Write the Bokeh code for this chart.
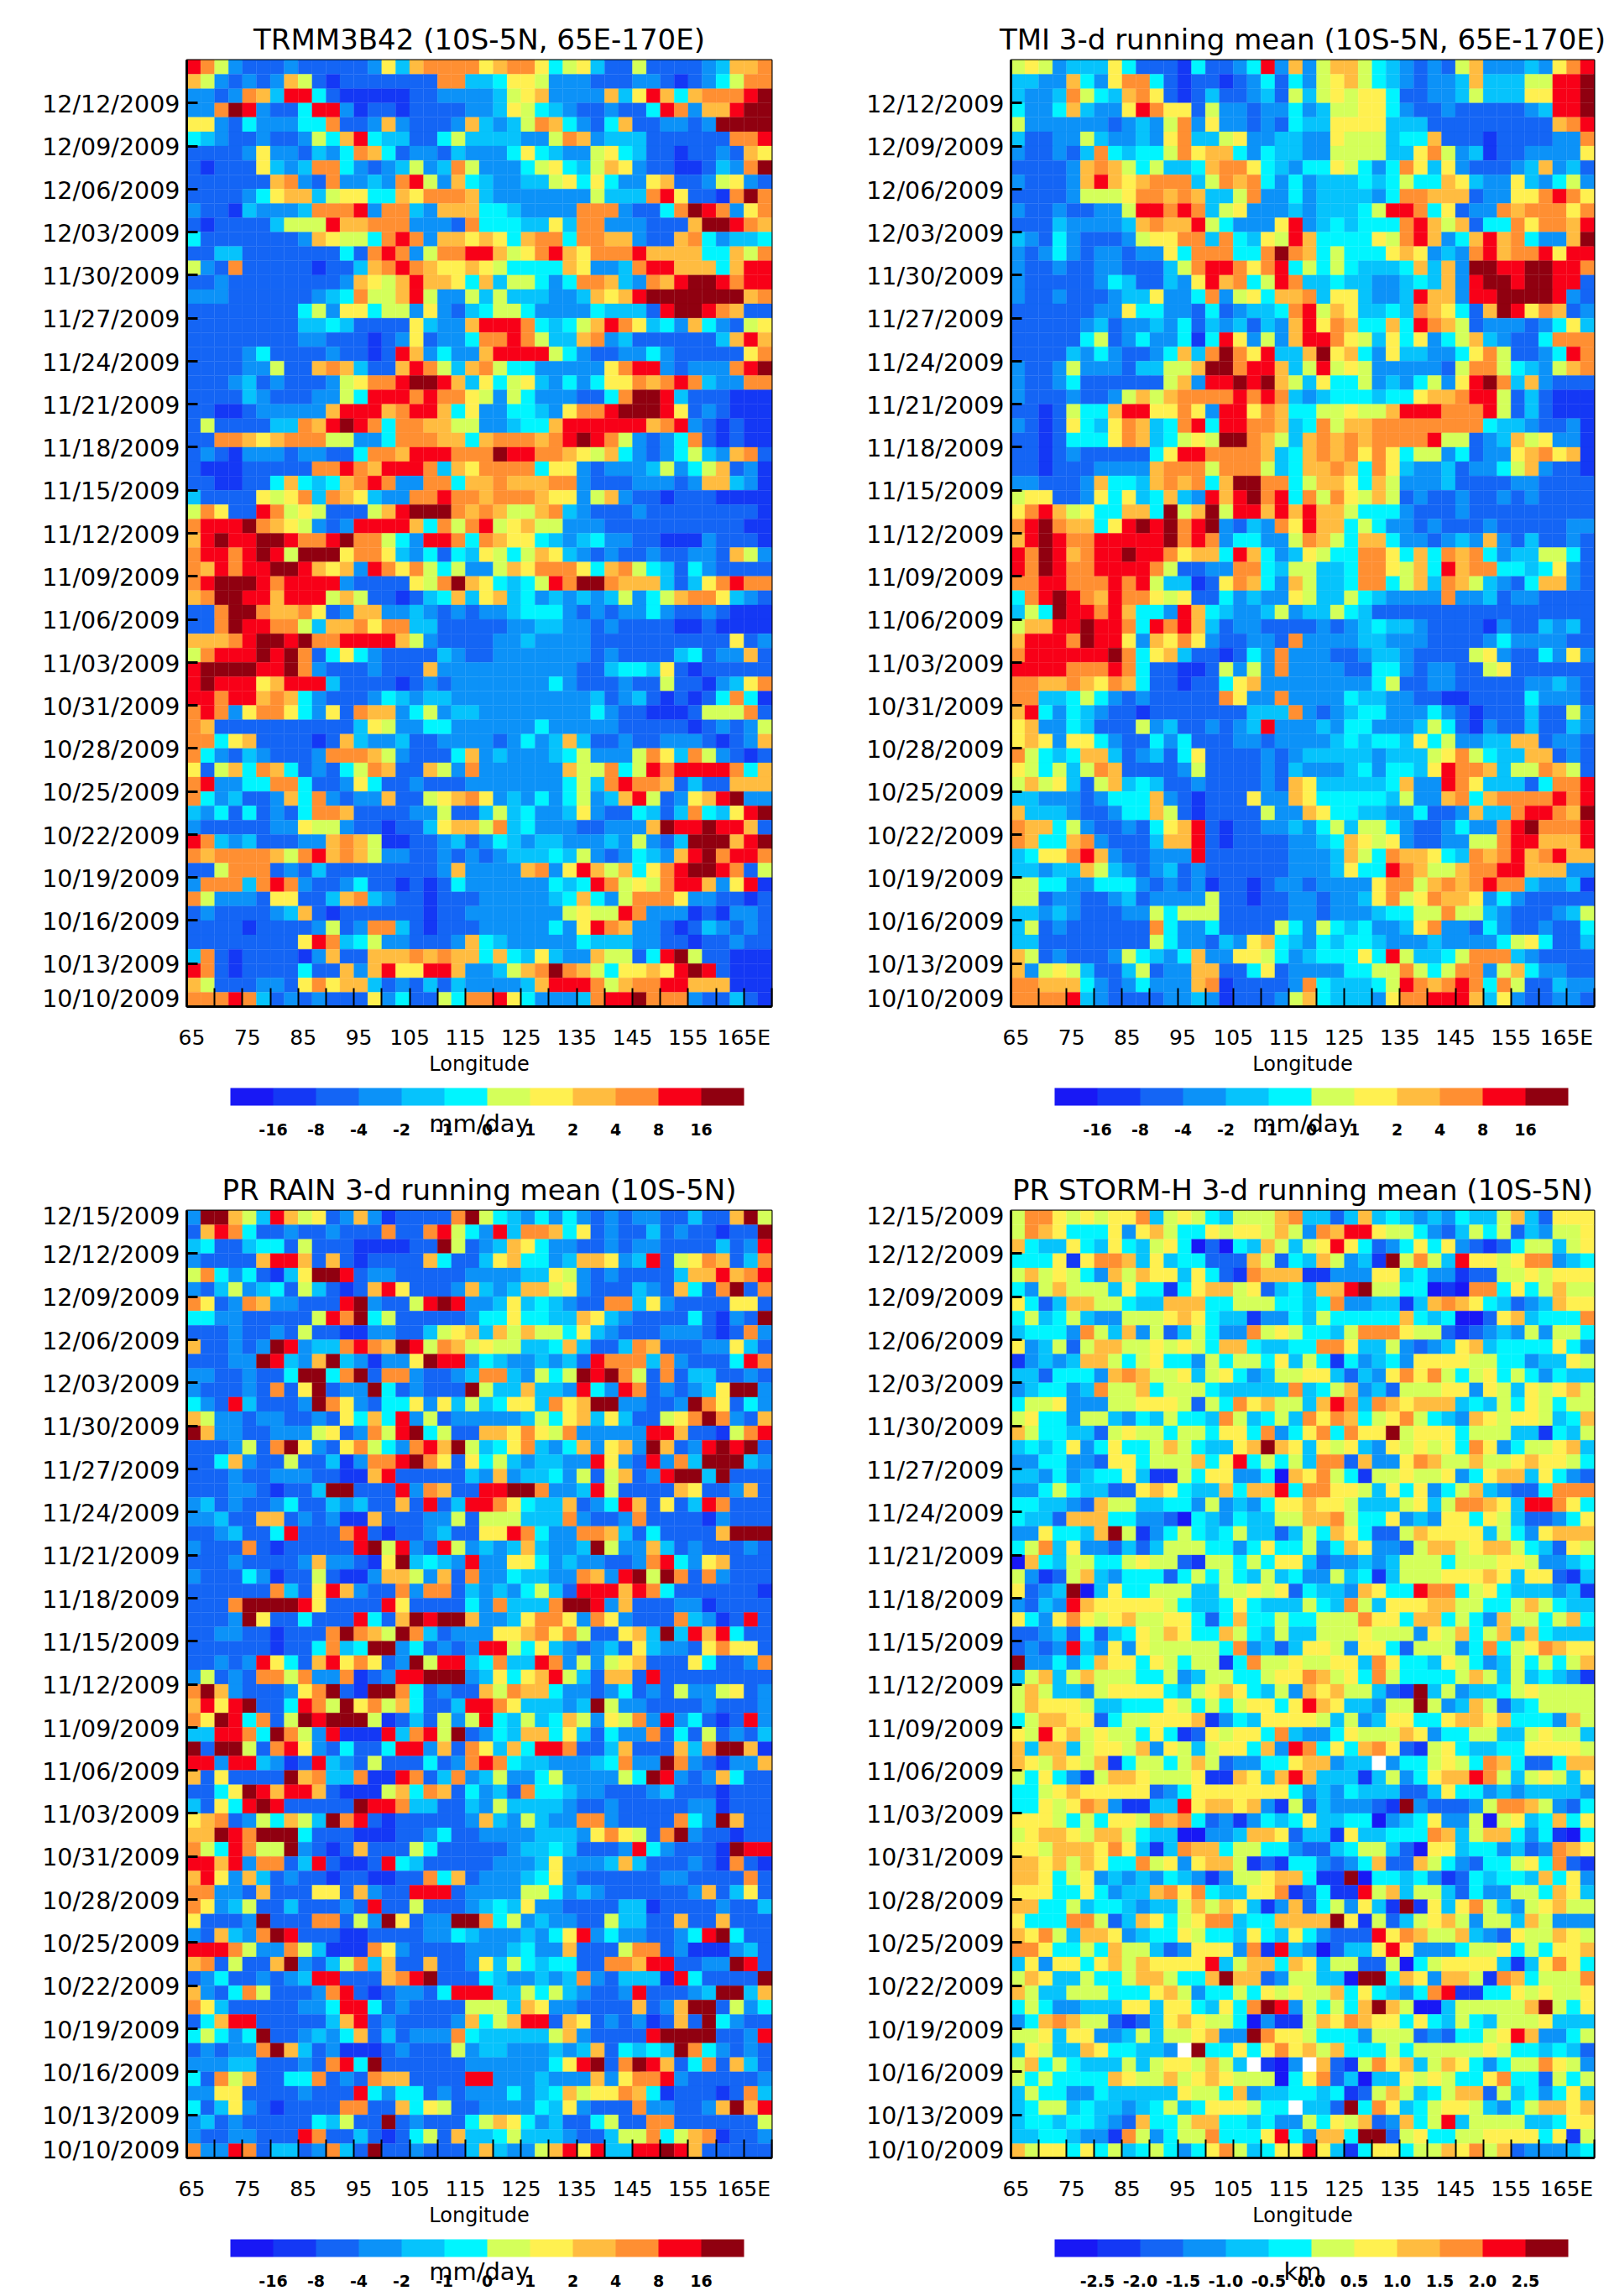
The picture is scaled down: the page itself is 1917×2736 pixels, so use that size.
from bokeh.plotting import figure
from bokeh.layouts import column, row
from bokeh.models import ColumnDataSource, FixedTicker, LinearColorMapper, ColorBar, Title
from bokeh.embed import file_html
from bokeh.resources import INLINE

PALETTE = ["#1818F5", "#1438F5", "#1465F5", "#0C92F8", "#06C3FC", "#00F5FF",
           "#D4FF5A", "#FFF050", "#FFBC40", "#FF8F32", "#F80018", "#900010"]
CODES = "abcdefghijkl"
RAIN_LABELS = ["-16", "-8", "-4", "-2", "-1", "0", "1", "2", "4", "8", "16"]
KM_LABELS = ["-2.5", "-2.0", "-1.5", "-1.0", "-0.5", "0.0", "0.5", "1.0", "1.5", "2.0", "2.5"]
DATE_LABELS = ["10/10/2009", "10/13/2009", "10/16/2009", "10/19/2009", "10/22/2009", "10/25/2009",
               "10/28/2009", "10/31/2009", "11/03/2009", "11/06/2009", "11/09/2009", "11/12/2009",
               "11/15/2009", "11/18/2009", "11/21/2009", "11/24/2009", "11/27/2009", "11/30/2009",
               "12/03/2009", "12/06/2009", "12/09/2009", "12/12/2009", "12/15/2009"]
LON_LABELS = ["65", "75", "85", "95", "105", "115", "125", "135", "145", "155", "165E"]

# colour classes: rows from top (12/15) to bottom (10/10), 2.5 degree columns
TRMM = """
kjgdcccdcc cccdheijjj jhijjhfghe ccgccccdei ij
igdcdcdigc bcccccccjj eefhhgdddc ccddcbcdfg jj
ddcdjiekkf cbbbbbccdd ddeghidddd iehkifijjj kl
ddjlkdccfk kdbccbcccc ddehgfedcc dccfkjdiik ll
hhdcfdddff jccdidcccd iedegjifdc ficcddcdll ll
fedccdccdg fikfeeccfg eeeeddgjid eeeccccccj jk
ccccdhddce dfjifcddce dddfhfeddg hfeccbccdc ih
cbccchedej jfdcdegdej gdddfghfeg ihdccbbced jl
ccccccijdc jddedjkgdi feddeeghfh fddhiccdgh dc
ccccdfhiie ghhffihjjj ieddddddDg eeejkhccbj lj
dccbedddej jjkdjjedii iffeddddjj jdccfjlkjd hj
cbcccceggg kiijjjdddc jfffeehejj dddccciLLk ji
fcccccccdi hggfjkjdii hihfijjfjj iidccijfde ef
cceeccccCc cfcjkjdgjj kkighjkihj jjkiiiiffi gj
gdcjcccccb cceijkjihh ihgffffihd dejkkiiifi kk
ccdccccccc cdihgikiih fieggfdfjj iedjikllkj kk
dddccccccd efjggikgdd gegeeeddei hiklllllll ij
ccccccccfg dhhfggdhdc efggfddddf eeeckllkji cc
ccccccccee fecccchedd ikkkjfefgi kjhefdifdc gh
ccccccccdd cccbcdhcdd fjjkjgeeij decccccceik ik
ccccdfcccc dccbckidfd dikkkkgfdc cddfdccccc hj
ccccddgcci jieccikjge ijgffddddd hjkkdcdddj kl
cccdecdccc dghjjkllki ehfghedfdf hhjijkjedd jj
ccccedcccd dgfkkkjkjj hgdgfdddcc fjllkecccb bb
ccbbcddddd ikkkijkkif hddffedhjj klllkhcdcb bb
cgcccceeji klkjfjjiig gddeffikkk kkkijkdcbc bb
ccjjihijjj ggddfjjjii fijjjijklk jgdcdfjcbc bb
cdcbdddcdd ccfjjikkkj jjlkkjjihg ifdcdfgedi jc
cbbbcccccj jkjikkkjei hjjjjfhhdc dddegdfgic db
ccbbccfife fijkjddjjf iijiiijjdc ccdddcdiie db
ecccchghje jiheddjjkj jijjjihhdg idccbcccbb bb
gjhcckjghg cccgiklllj ijiggijedc ccdccccccc cb
jkkkljihgd cdkkkkifjg jkghiggddd cccccccccc bb
iklkkllkjj kljjgfdkkj fjihhfedef ddccbbbdcc cb
jkkjklkgll lhjjhedfcf ehgfgihedc dccdccddci gd
jikjkkllki hidkjhjgfg ddgihjjjhf ijgfecfdcc cc
jklllkjkkk kdcccchgjl ihfefgkjll jiiiecehjk jj
ijllkkikkk gigccbcefi ehiefdeded egdfgijjhe dc
ccjlljiijh cdiiddedcd cddefffdcd cddfdccdcb bb
ccjlkkjjge iijhjjeecc cccddeeddc dccccbbcbb bb
iiijkllklj jkkkkigdcc ccddeddddc ccccccccch cd
gjkkklkljc fhfdcccced ccdddddddc dccccefcdd ic
kllllkkljd cccdcccidd ddddddddcc effehcbccc cc
klkkkhikkk eccccbcdcd ddddddfdcc cdccgccbde hj
kkjkkijifd cccdfedeed ddddddddde cdecbcbcfj fb
jkjdhjjhfd hcjiidfgde eddddddddf dccbbbcggg jc
jicccccccc ccehgddffd dddddfdddd dcccccbcdc dg
jjfhiccccb cieddeccdd ddcdfdeiec cdccdddcbc di
jfdcedcccd jjjigdcccf idedddefgd ddgjhejgdc bc
hcgifjifcd cfgjiccigd jddddddigg jfgkjkkkkj fi
jkddffjjfc cdhfccdccc dddddddfge jkjjicecci ii
jfdeccdifj dcddiccghi jhdedfdfgd eikgcdhikl dd
edfcfcdcfj jiccccddgc cegefddehd ccfecejfeh kl
dcccccddhg gdccbccehi igjefdddcc dddilkklkk i
kjedecccdd ijigbbccde cdfedeedd dedgdcelll ikl
jijjjjigjk ijigddccdc dcdeeefegd cdfedikljk kj
ccgjjjcdce ccccccccdi ddddijdhki gifhjkllkj cg
djjjejkjdc cdfccbcbcf ddddddfefk jghgjkkidh kb
jgdddchhcc eijedccbcc cdddddefif dgjjjhddcc bc
cdccccdeic bccccccbcc dddddddghg gkjdddbcbd dc
ccccbccccd gcdjjecbcc cdddddfdhk jiddcbcedc dc
cccccccchk jefgddcccd ifedddddfe eeddccbccd cc
ejcbccccbd icciiijiji ififehedDi ggcfklgccb bb
kjcbccccfc cidikhhkki ddegijljig fhhihklkcb bb
igcccddchj hiiecdcece ddddeikkkj gijjkkiiib bb
jjjkjecdcd ccchdfccgf jjkhfdddej kkljjjdcce cb
"""

TMI = """
ghgdeeehfc ccbfccdfkd idgiigfedc dcgidddedh jk
eeddifdhjj fcbccbcdfc fdghigfedc ddeieeeggk kl
eddejgfeij hcbceccdec geghghhfcc ddegeeehhk kl
fddfieddhk jhhcgddcdd fdegghhfdc cdcccccdek kl
gddddddcde dgjdhddcdc feehhhheee ccccccccci jk
eccddgedde dhjeeghdde eddhgggeff icccbccccd dj
dccdcejfef fgjhiifdfe eddggggeeh jgdebccddd dh
ccccdijigf geefijjhfe dffhgfdfjh ehdcccdeid e
dcccdikihi jjjegjijfd fdeeefefgf fiheddhedf gd
ccccdggghj jijieegjdd fdeeeedfjj iiicddhhjk jh
dccdccddgk kjkjeghddd edeeefgkkj fhcddjijjj hj
ccceddddei jiikgfdddh kdefefffjk igicffjhjj ik
edcfdcccdg hhjjejfehg kiffffhgjk idfikijfdd il
dcdfdcddcd dhfjjjffjl jifgfffhih dedjkijjkh kk
dccdccddcc cegjkkjhjk fgfgfeeefi eidllkkllk kj
dcccccdfec cedhkijfgk jeefeeddef eidkllkllk kc
dccdcccdee hddfjdghfi ijehheddek iidkkllllk dc
ccccccddhf fddcfcdeef jkgiheefej ihfcilkhji cd
cccccdecdd edfcedeced ikhjiffifk jigcdddcdf he
cccccfgcdf ddfbfkhdgd ikkjhgehfh dfgiedccfj jj
ccccedfdcc dfiejljhke eilhifdhee ddfhjgccdf kj
dccdgdddce eggilljkki egkghgdddd dcgjjgfedg ij
dccdfccccc cgidkklkli gehffgdedf gdhkljeidc cc
dcccdccdgi gijjjjkjkj edefffeffh iijkkgcecb bb
ccbcgffikk hhjhdkkhji ffgghggikk kjjjkgcecb bb
dcbchfehji efjkfkkjji efjgiijjjj jjjjfeedcc db
ccbcfffhji efghglljig eijijijjjj kggcdeighd db
ccbcdccccc fhkkjjjjie fijijhjhfg gdfcddhijh ib
ccbcccdddd ijjjgjjjge fiijifjhed decddfgidc cb
ddcccdiffe ijijfilljj fgiihfigdd deccccddcc cc
ghhccdhfhe fiedkikljk fjgjhgigcd ccdccdcdcc cc
hjkighffii flgilgkkik ikiigfffdc ccdccccccc cc
jkljiifhkl kljkldcedj hkiifgfddc dcccdccccc dd
iklkjjkkkk kljkjdffdd gjigfiifdd cdedidcecc dc
kjlkijkklk kjhiifkifd ehgffjjhfi fjijfdeegg fc
kjlkjjkkkk jgccddjjfe ggeefjjhgi fkijjffefh dc
jjkkjjjkjk geebchjifd igeefjjfgi ejigedcfii dc
fjklkjikjj hghccfdedd hgeegfeddd djddecddcc cc
egflkkjkif fdkifeddeg deegfecccc cccccccccc cc
giikklkkjf kjkiecddcc ccdcdefeed ccccbdcced ec
ikkkjlkkhd ihjhdccddc jddddeeddd ccccdfdddd cc
jkkkkkkljf hieccbcfdj dddccdeedc cccghdccfd hd
kkkkjjjkjf ccbbcgdgdj ddddccffdc ddccghcccc cc
jjiijihjif ccbccfhidd ddddddfgcc ddcccccdde dc
jjeefgfdcd cccccjhddj ddddfeeddc cbbccccfdd dc
ikfdfedccb ccccccceee jdcdeffddd fdcbcccecc gd
hiddfecccg deccdcdekd ddedffddde gfcbdccecc ed
hihdhhfdcc fdfcccddcd dddefeffeh fgddeeiicd dc
jgfefiiecd ecfhccccdc deeeeedeee ghjgfeeiic dc
hgfgegjicc ccdgccccdc edddefdffe hkjjieggji gc
gighecgief eccdccccdc iheeeeefid dkjheeecfj jk
eedddcdfff idcbccchdd ihfffffegd dijfijjjjk jk
ieeedccdff igcbccccgd dihffeeddf ccdieejkkj il
jiifgdccdc fhikcbccdd edfgeggfdc cdfddjkljj jk
jiffijdccc eiikcbcccc ddefihghdc cddggjkkii ik
efhhjkidcc dddkcccccc dddeigfjii hfejijkijk ii
eedeeigedc decdcccccc dddehffkji ggijjkkiii dd
ggffddfffd cdcdbccbcd dcddddhjjg ijijkjjedd eb
ggcddccdec ddddgccbcc ddcddehjgh jiihdfdccc cc
eededcccdd gfgggccccc ddcdddeffg gjggedcccd eg
egcdcccccc jfddfccccg fdgfefddeh jddcfdccdc cf
eecccccccc gfddcedhif edfeffeddd eddddfghfc ce
igcdcccdgf edfiddhhgf defffhfkge efgjjjedcc cc
idghgecceg cddiiccfhc ddddffggjg fgjjdgifdd cc
jjiiifdcdf dddijbcccc djfeeefgkj ijkjfjgcce dd
jjjjkedccc cddedbcccd gifeeedhjj kkkiehdccd dc
"""

RAIN = """
dlligekigh cdidbccccj lgfedfdfdc dcddccecci lg
cikjfccdcc dcccjccjkg fdkejjifhc dcceCdccbc cl
efcceffcgc ccbbbbcclg cdeihfddcc dcddcccce c dk
dccccikkic icbccccifc cehiffdeii hdekcghjic ej
gjfdfcbehl lkcddccccc ddddeehgdc dcccceiiki jk
dcegdefcge cbcikhcccd iedeiighdc ccedcifcjl cj
jhcdjiddcc ckldccgklk ddehefedcc jjehdcccch hc
ffddcccccg kjlfgccccc dffhffeeih edccccfcbd cl
cccdccdcgc cbbddccegh ieigiggfhe dcccdddcbc jd
iccdcdlkde ejkjilkgji ghggeefiec cejicccddh ec
cccddlkedi ledbddhlkk dfeddedeck jjjejdcccf kj
ddccdccfll fjlcjjdccd ejjedgfglk ljgcjceecc dc
dcccdcjchl cddlfcdccc lgeeieedkf dkjcdcdehl ld
fdckecccdl jhdcffhdhe gefhhejhil lddccdljhc fd
igddcddccd chfifkdgcd ddddegfhie heccghjljd ci
liddccdddg hcdjgklfgc ciihjhgjdd dddkkiccbg jk
cccdgcjlhd chjgfdjkil gefhjedfid hidlicdklk lc
ccfidccgcc ebdjjkljhc hfgedeeddk hdckdjelll ed
cccdccdddc cbbikccccc edideefdgc gicdkllelc cc
cccddcbcce llccckdjic ckklljddek gccccihccd ic
decdccdfcc edeccickce kkjhfeeicd fkichcekjc cc
ddecciicdc dbbicccddg cgggeeejdc cdjccccbdc cc
ccdeccfkcc cjkcbccdec chhkjfddjj iecfccccil ll
dcccjcbccc ccklgkdckg dedeieddel gddiecdccc dc
cccdccccdi ddcbhlefed kddhhfdedd ccdjkfdhic cc
dcccfdbccg cbbdiigdic jddfeeddji dklgljcjdc cc
ccccccjech kidccjdjjc ededfgeckk kikjfccccc cb
cccjllllkh cccckhcccc fdjeeejllk dicccddbcc cc
cccdlhccfc cckfcilkll iddehjjhdj hdcccjedbc kc
ccddccbccc jljigljecd ddhhijhjgc chielekikf cc
ccccccbccf jeflldfcdc dkkgfhedcd echeddchjh hc
ccdcdkhfci khjhcdlgkk efjeekjdgd ghiccchfcc dj
dgcdcjjgjd djbcdkklll dehfhikgec iickcccccc cc
jlidcccdhj lcblljfcdc cigjiifddc dfcdcgddgh cd
ikhklccfkj glhjgifcce kkjheeedel gddccccdcc cd
jhlkfjcglk lllgbcecgd gkfegefigd hgjdkdfcbc kd
eekkjfljgd kbbbkejkgl cdfeiifhec fddjcfcgcd ce
lcllgcjkhd cfccfkkdic jheifkkjcc eiccciejll ib
kkdkkedbck edcgcccfcd jkjfeeddde fjddljdcbd di
ichcccclij eejbbkjcej degddfgddd dgflkdcdif cc
ccfhlkikki cbbbgifjic fdecjffedd cccdecccbc cc
echfklkccc cclkkjeecc edgeeeedcc dcccccddbc cc
hijcdgfige ljkcbccccc diedgeddjj dccccjfdli cc
iilkjlllfc ccbbbccdfc cddddeeedh jhgcjldccb cc
jgfkjggldc bcicccgfcc cccdeefecc cdkfdcccbl kk
kkikdjjcek cbbckfeccc ccdddehddd eiecccdcbj cb
ikhdiecdcc bccbbccjfi cdddefhdcc ccccddcccc jc
jjddciccch hcidcckkkc ddddggfded ccccccdice hc
jhdegccecc cdckccgccc defehddccc ceebccccdc ce
hcccdlcccj jcgdlhcddl ljfgdeddcc geeccicci c cc
dciedjlkcc cbbccccddf edddedfhkd fddccdfklf cc
kkkjgddjge bbbjhdcccc dddefddicc cgjjcdbbbd ec
ijcgccildc egjeiccicc dhegfeffcc jjikkccddl kc
cdfccdcdek kcccijklcc cfeddedejd ceeebkfccc cl
idcfjgcccd jkcbcddcfk kkeegfgedc cdkcccdell ei
jheccccc dd fkkfcdcccc gggeihddcc ccicdillcg df
cfikkccccc eikcdccccd ifgikkcihc dcdbciclfd cc
fgfdflccde dficecdddj feeeeegidc ccckllllcc dk
cdcddjliec dbbbcdcccg deedddedei cfefeljfdc dc
dddeecccdc jkflcccccc ddddddfhkl cjlkicfjci ec
fcjgiccffj cdcjiicccc kkdddedddi dhjjkdcccc cd
ddhhccccdc cckfdffcdc dddfdefigh hjifbcccbc je
fcehdcbccc cjjccifhgc cddddfehdc ccjddccdil ik
decdcccccf egcclcdccc fgihfdeccf gccjjccccc cg
dccddccckj ccecbcfgci eefgeeedcc eggjfgijbc cd
jddkjceecd jeclccdccc eieddgikhk eekklkiccc cc
"""

STORM = """
gjjhghghhj eghgfegggi jeeceiefed edfeegiech hh
gjihfffhdh igffhghhgi gdjikkhggf dcegfgcedg gh
ifeehfehfe ghfacafeig eghkhfcdfh fhdcbcfgge gh
fffhbhjjie heffcccigc feigdeblgj gekhhghjjd ef
gighgfdigi hhehfcbjii ibbdddhhef ddbccgghgh hh
fdgigggehf fbfhiighce feiiklggff abajjfhfgi gg
hfceiiggfe eiiiffgggf fefjddeebe ijihfecdei hh
fgefgeddgg ghihfeebdd fegfffffif efaachieff fj
efffdjgeid gcegfddjgh gffegjjjhg gcbcdedgdg gf
hdegcgiigg hghgfiifee ffjjheegdc dehieffffh fd
bdedeiigfg hffdgfggfh egfbfdefdh hhhggffdee hg
eecfffdiji ggheghfdeg ghhecedhjh jgfghfgfdf ee
deffdejggi fgggfeeeee jefgidecgg ghhdhgehgh ig
fgghdddggh hhgcgfjhig geikjejihi iiefegfhgf gg
ghffdggedf egffejgefg ejhjifghjg fedihghhge fi
igffeecghg gfggfhhfjd fhjfjhhlgh hhfgggeebf eg
efefhdfhff gigfeehili hehghedhgh ghfjhdfggh ie
ddffddchhf gggifhkfgf gejjciddhj iggigghihh gf
eedfdeffhe bbgfhhddfa ihjgfbgghg ghdfhiiehf dc
ddfgfeecch ihfeeifiik fjjhhgehfh dfgiedccfj jj
ffeedcigge effdgdedfh hihhgeeegh egjjihekkj hf
feeciiiffd dcafedfeeg giijgffhde dhhfhgeccd fh
ddhffeilgb dfgfefgeec egfihfccgi hhhhegfdhi ii
fgjehddcec egggffdfhf fgdfihddcg iighiigfec hg
aifeggffgh ggcbggfgfh hecddedegg gfggghhgdd ef
gdbcgiedff fcfgfgfege fddgefbegg ghhhihehhc be
hcdelaehff gggeegghgh cfeedihffk jjfghfeeed eb
dcedkihhhh hgfeefhfee egfejgehhh iiggffgigf ee
hfdhjhghig ghhfcfiffg ffgggjhhfi ifgfdiggfg if
ccdecfcefh gihffigfeg eeggghgggd hgifgieife ee
cdcdkedhdh gggggfjdec ehhgdhhfcg ggdfjfghji hh
lddfdfihhf hgfggbfjgg hgghhejhff ehgfdegfgf gi
egiegigggf fgdeggffgh hjighfjgff ffgigegefe db
gigeedghhh hfeghihfeg dihiggecbl egdeefghgg gg
gihhhgeeff fhgfgfghhf hkiheedggl gdeigcefgg gg
fgiihhcfgg hhhibdfehh hhgegdehhf fhiihifffd ig
hgkhighggf hfbchghhfj eddfhgggih dffggeeghg ge
ieiieghhgi dhgeghhfid kjfhfijhcb ghfeeffhhh hg
ihgihgibfg gfgigcddff hiidee.dff ghgfjifccf ii
gfhfdbgiih ggghbbihei kieeebegdf hiikjgeghg eh
ffghihhhhh cdfhhhhhhh fdedfeeecc ehffdedeee ed
ffhghjidbb eekhiihidb gcedddcbld cccdgjjigd cf
hhhgfgfhhg jijfcdbdfe fheeffadef hddgaghefi fh
ghiihgiigf eeaaddeiih ceebheefff jiegiifdfb af
hhgiiihjhe bejiifggff dccefggeca hheffdecdj ih
iihigihffj ghdhiigbcb ffdcdficci gfdcffghfj cb
iihfghdede dfedbdgghi ifbblaffef dbcfeffeif hd
hhhffhfdee ijhjfeehhj bcfbbkgieg gecfddggfi he
iiffgeffed eegigihebd icfgdheblb hehjgedghi gg
hfffjjgcei hfghjjeffi iiilhbgceg higdggeigd dd
ihjgeiihde ffhgffehfe hfdccckhji ggiedchggi hg
jjhffgfigg ecdhhhdjbk edaceehkhd ddfgghfgfh hi
ehdhhfhigi hhhhkegiif iheggccgaf ghhhhebehj hf
giheegffgi igffiliicd ggeeallfih diigbjifgg gj
igeegggfff higdffgfhg hggifhfedf jkbbffhghg gh
fgfddeeehh ehhfehfjlk dgfgfiliga aegggggilg fh
dfijiggcbc ehihggfadb bgihjihhfh fegfeggghe ee
gghehhddeg egghiddljh hgfffdgggc dcffghkidd fg
ehgeeihffe ed.lffhfhj higifffgfg gggghgffef ec
gifgfeeege ghhgige.ba d.icbgjhie gihfdfggjh gd
gfgffffihg gighihggga fhjceaeehg hgffhjffcg fg
egffddfeee eehggfidee ffefbcgige fgiicgefdf he
efggefeede fgefhhhgff .eeclfjhef ghhgedfgii hi
effeffedci ffgiiffefd dgfhgicdif gkeggggeef hh
eeffeddbjg dfggjfffhk fdiifllcgh ffgghhhhfh bg
ighhfhfgef gfdfhjgefh hkhebfhhfg gihjgicddd ef
"""

NCOL, NROW = 42, 66


def decode(text):
    rows = []
    for line in text.strip().splitlines():
        s = "".join(ch for ch in line.lower() if ch in CODES or ch == ".")
        rows.append(s[:NCOL].ljust(NCOL, "c"))
    return rows


def panel(text, title, cb_labels, unit, unit_offset, unit_standoff, top, bottom, left, right,
          frame_w, frame_h, show_top_date):
    rows = decode(text)
    left_x, right_x, low_y, high_y, color = [], [], [], [], []
    for i, line in enumerate(rows):
        y = NROW - 1 - i
        for j, ch in enumerate(line):
            left_x.append(65 + 2.5 * j)
            right_x.append(65 + 2.5 * (j + 1))
            low_y.append(y)
            high_y.append(y + 1)
            color.append("#FFFFFF" if ch == "." else PALETTE[CODES.index(ch)])
    src = ColumnDataSource(dict(l=left_x, r=right_x, b=low_y, t=high_y, c=color))
    p = figure(frame_width=frame_w, frame_height=frame_h, x_range=(65, 170), y_range=(0, 66),
               output_backend="svg", toolbar_location=None, title=title,
               min_border_left=left, min_border_right=right, min_border_top=top, min_border_bottom=bottom)
    p.quad(left="l", right="r", bottom="b", top="t", fill_color="c", line_color="c", line_width=0.3, source=src)
    p.grid.visible = False
    p.background_fill_color = "#FFFFFF"
    p.outline_line_color = "#000000"
    p.outline_line_width = 2
    p.title.align = "center"
    p.title.text_font = "DejaVu Sans"
    p.title.text_font_size = "34px"
    p.title.text_font_style = "normal"
    p.title.text_color = "#000000"
    p.title.standoff = 10

    # x axis: marks every 5 degrees, labels every 10 (the two-digit ones sit a little to the right)
    x_pos = [65.9 if t == "65" else 75.9 if t == "75" else 85.9 if t == "85" else 95.9 if t == "95"
             else 65.0 + 10 * k for k, t in enumerate(LON_LABELS)]
    ax = p.xaxis[0]
    ax.ticker = FixedTicker(ticks=x_pos, minor_ticks=[65 + 5 * k for k in range(22)])
    ax.major_label_overrides = dict(zip(x_pos, LON_LABELS))
    ax.major_tick_in = 0
    ax.major_tick_out = 0
    ax.minor_tick_in = 22
    ax.minor_tick_out = 0
    ax.minor_tick_line_color = "#000000"
    ax.minor_tick_line_width = 2
    ax.axis_line_width = 3
    ax.major_label_text_font = "DejaVu Sans"
    ax.major_label_text_font_size = "25px"
    ax.major_label_text_color = "#000000"
    ax.major_label_standoff = 22
    ax.axis_label = "Longitude"
    ax.axis_label_text_font = "DejaVu Sans"
    ax.axis_label_text_font_size = "24px"
    ax.axis_label_text_font_style = "normal"
    ax.axis_label_text_color = "#000000"
    ax.axis_label_standoff = 0

    # y axis: a mark every 3 days; first and last labels are nudged inward
    n_dates = len(DATE_LABELS) if show_top_date else len(DATE_LABELS) - 1
    y_marks = [3 * k for k in range(1, 22)]
    y_pos, y_txt = [], []
    for k in range(n_dates):
        d = 3 * k
        y_pos.append(0.55 if d == 0 else 65.6 if d == 66 else d - 0.1)
        y_txt.append(DATE_LABELS[k])
    ay = p.yaxis[0]
    ay.ticker = FixedTicker(ticks=y_pos, minor_ticks=y_marks)
    ay.major_label_overrides = dict(zip(y_pos, y_txt))
    ay.major_tick_in = 0
    ay.major_tick_out = 0
    ay.minor_tick_in = 13
    ay.minor_tick_out = 0
    ay.minor_tick_line_color = "#000000"
    ay.minor_tick_line_width = 3
    ay.axis_line_width = 3
    ay.major_label_text_font = "DejaVu Sans"
    ay.major_label_text_font_size = "28.5px"
    ay.major_label_text_color = "#000000"
    ay.major_label_standoff = 8

    mapper = LinearColorMapper(palette=PALETTE, low=0, high=12)
    ticks = list(range(1, 12))
    cb = ColorBar(color_mapper=mapper, orientation="horizontal", width=612, height=21,
                  location=(52, -156), padding=0, margin=0,
                  ticker=FixedTicker(ticks=ticks),
                  major_label_overrides=dict(zip(ticks, cb_labels)),
                  major_tick_line_color=None, minor_tick_line_color=None,
                  bar_line_color=None, border_line_color=None, background_fill_color=None,
                  label_standoff=21, major_label_text_font="DejaVu Sans",
                  major_label_text_font_size="19px", major_label_text_font_style="bold",
                  major_label_text_color="#000000")
    p.add_layout(cb)
    p.add_layout(Title(text=unit, align="center", offset=unit_offset, standoff=unit_standoff,
                       text_font="DejaVu Sans", text_font_size="29px", text_font_style="normal",
                       text_color="#000000"), "below")
    return p


FW, FW2, FH1, FH2 = 697, 695, 1128, 1129
p1 = panel(TRMM, "TRMM3B42 (10S-5N, 65E-170E)", RAIN_LABELS, "mm/day", 22, 70, 71, 186, 222, 47, FW, FH1, False)
p2 = panel(TMI, "TMI 3-d running mean (10S-5N, 65E-170E)", RAIN_LABELS, "mm/day", 24, 70, 71, 186, 238, 16, FW2, FH1, False)
p3 = panel(RAIN, "PR RAIN 3-d running mean (10S-5N)", RAIN_LABELS, "mm/day", 22, 62, 42, 178, 222, 47, FW, FH2, True)
p4 = panel(STORM, "PR STORM-H 3-d running mean (10S-5N)", KM_LABELS, "km", -16, 62, 42, 178, 238, 16, FW2, FH2, True)

page = column(row(p1, p2), row(p3, p4), spacing=0)
open("out.html", "w").write(file_html(page, INLINE))
